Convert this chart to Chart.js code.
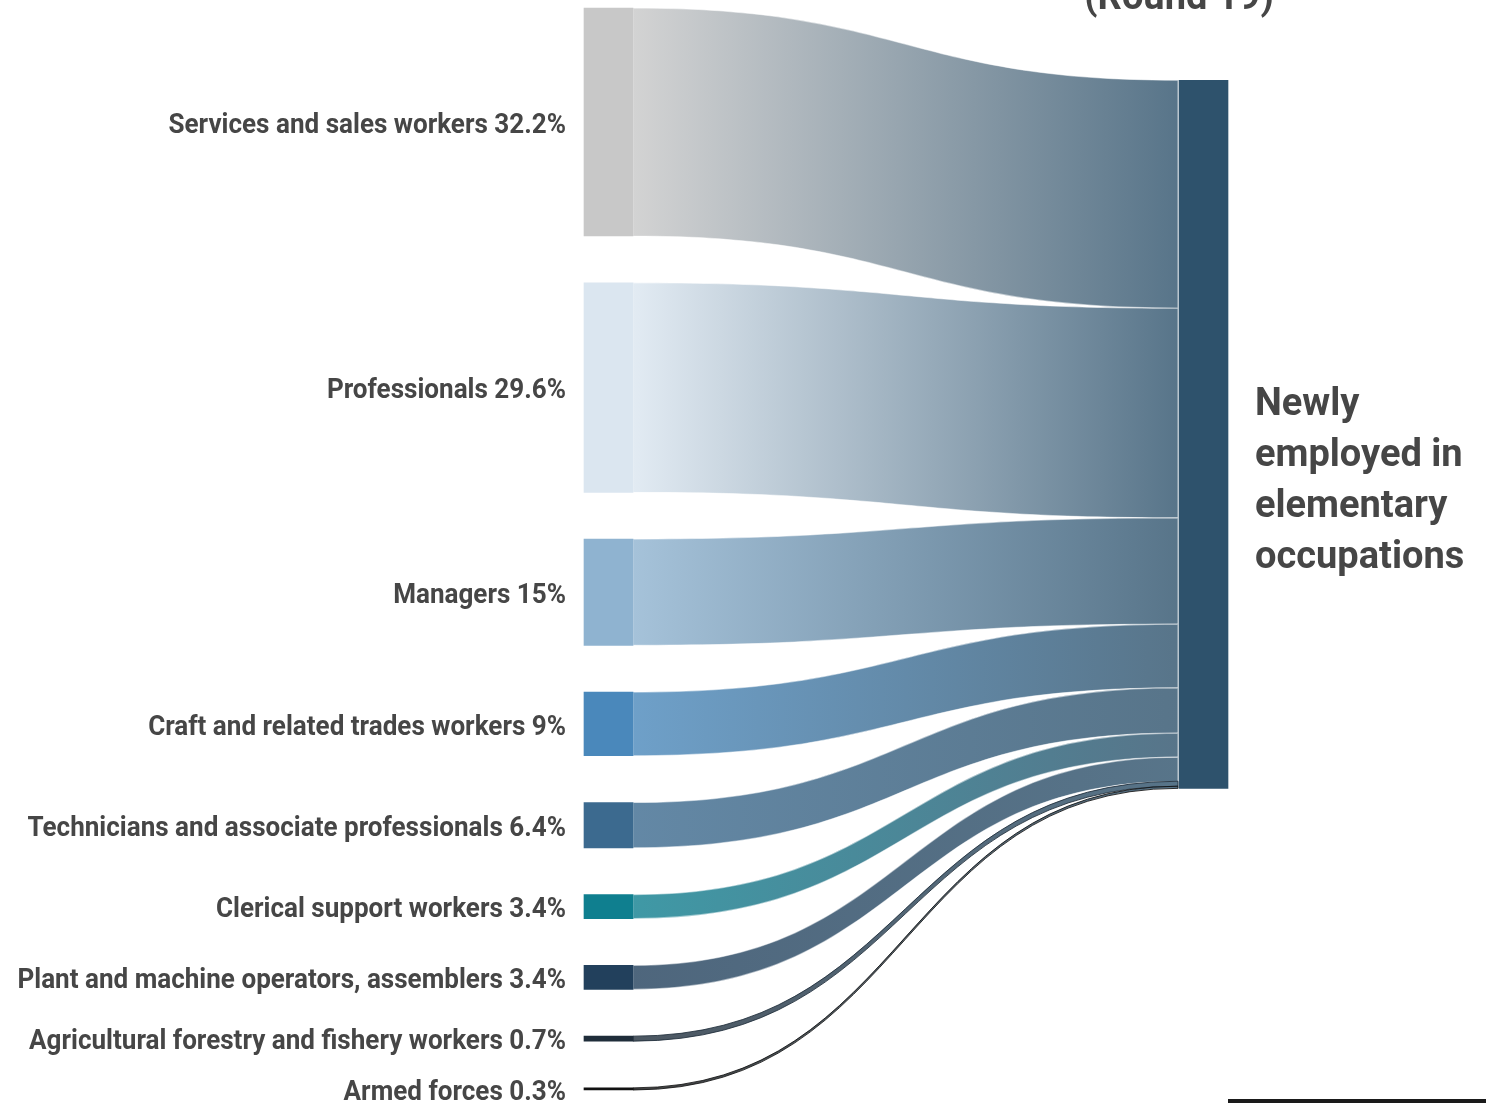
<!DOCTYPE html>
<html>
<head>
<meta charset="utf-8">
<title>Newly employed in elementary occupations</title>
<script src="https://cdn.jsdelivr.net/npm/chart.js@4.4.1/dist/chart.umd.min.js"></script>
<style>
  html, body { margin: 0; padding: 0; background: #fff; }
  #wrap { width: 1486px; height: 1103px; }
</style>
</head>
<body>
<div id="wrap"><canvas id="sankey" width="1486" height="1103"></canvas></div>
<script>
// where the newly employed in elementary occupations came from
const sources = [
  'Services and sales workers',
  'Professionals',
  'Managers',
  'Craft and related trades workers',
  'Technicians and associate professionals',
  'Clerical support workers',
  'Plant and machine operators, assemblers',
  'Agricultural forestry and fishery workers',
  'Armed forces'
];
const shares = [32.2, 29.6, 15, 9, 6.4, 3.4, 3.4, 0.7, 0.3];
const nodeColors = ['#c8c8c8', '#dbe6f0', '#8fb3d0', '#4a88bb', '#3c6a8f', '#0f7f8f', '#22405c', '#1f2d3a', '#111111'];
const targetLines = ['Newly', 'employed in', 'elementary', 'occupations'];
const targetColor = '#2e526c';
const roundLabel = '(Round 19)';

const GAP = 6.6;          // space between the left nodes, in share units
const TARGET_TOP = 10.2;  // offset of the right node from the top
const FLOW_ALPHA = 0.8;
const TEXT = '#464646';
const NARROW = 0.965;     // squeeze the labels a little, like a condensed face

// stack the left nodes from the top
const leftRanges = [];
let pos = 0;
shares.forEach((v, i) => {
  leftRanges.push([pos, pos + v]);
  pos += v + (i < shares.length - 1 ? GAP : 0);
});
const span = pos;
const total = shares.reduce((a, b) => a + b, 0);

// each flow lands on the right node in the same order
const rightRanges = [];
let acc = TARGET_TOP;
shares.forEach(v => { rightRanges.push([acc, acc + v]); acc += v; });

function rgba(hex, a) {
  const n = parseInt(hex.slice(1), 16);
  return `rgba(${n >> 16}, ${(n >> 8) & 255}, ${n & 255}, ${a})`;
}

function narrowText(ctx, text, x, y) {
  ctx.save();
  ctx.translate(x, y);
  ctx.scale(NARROW, 1);
  ctx.fillText(text, 0, 0);
  ctx.restore();
}

const datasets = sources.map((name, i) => ({
  label: name,
  data: [leftRanges[i], null],
  backgroundColor: nodeColors[i]
}));
datasets.push({
  label: targetLines.join(' '),
  data: [null, [TARGET_TOP, TARGET_TOP + total]],
  backgroundColor: targetColor
});

const flowPlugin = {
  id: 'flows',
  beforeDatasetsDraw(chart) {
    const { ctx } = chart;
    const y = chart.scales.y;
    const left = chart.getDatasetMeta(0).data[0];
    const right = chart.getDatasetMeta(sources.length).data[1];
    const x0 = left.x + left.width / 2;
    const x1 = right.x - right.width / 2 - 1;
    const xm = (x0 + x1) / 2;

    shares.forEach((v, i) => {
      const s0 = y.getPixelForValue(leftRanges[i][0]);
      const s1 = y.getPixelForValue(leftRanges[i][1]);
      const t0 = y.getPixelForValue(rightRanges[i][0]);
      const t1 = y.getPixelForValue(rightRanges[i][1]);
      const grad = ctx.createLinearGradient(x0, 0, x1, 0);
      grad.addColorStop(0, rgba(nodeColors[i], FLOW_ALPHA));
      grad.addColorStop(1, rgba(targetColor, FLOW_ALPHA));

      ctx.save();
      ctx.beginPath();
      ctx.moveTo(x0, s0);
      ctx.bezierCurveTo(xm, s0, xm, t0, x1, t0);
      ctx.lineTo(x1, t1);
      ctx.bezierCurveTo(xm, t1, xm, s1, x0, s1);
      ctx.closePath();
      ctx.fillStyle = grad;
      ctx.fill();
      if (v >= 1) {
        ctx.strokeStyle = 'rgba(255, 255, 255, 0.5)';
        ctx.lineWidth = 1.2;
        ctx.stroke();
      } else {
        // hairline flows still need to show up
        ctx.strokeStyle = rgba(nodeColors[i], 0.85);
        ctx.lineWidth = 1;
        ctx.stroke();
      }
      ctx.restore();
    });
  },
  afterDatasetsDraw(chart) {
    const { ctx } = chart;
    const y = chart.scales.y;
    ctx.save();
    ctx.fillStyle = TEXT;
    ctx.textBaseline = 'middle';

    // left labels
    ctx.font = '700 27px Roboto';
    ctx.textAlign = 'right';
    sources.forEach((name, i) => {
      const bar = chart.getDatasetMeta(i).data[0];
      const cy = y.getPixelForValue((leftRanges[i][0] + leftRanges[i][1]) / 2);
      narrowText(ctx, `${name} ${shares[i]}%`, bar.x - bar.width / 2 - 18, cy + 4);
    });

    // right node caption
    const right = chart.getDatasetMeta(sources.length).data[1];
    const rx = right.x + right.width / 2 + 27;
    const mid = y.getPixelForValue(TARGET_TOP + total / 2);
    ctx.font = '700 38px Roboto';
    ctx.textAlign = 'left';
    targetLines.forEach((line, k) => {
      ctx.fillText(line, rx, mid - 29 + k * 51);
    });

    // round label, mostly above the top edge
    ctx.textAlign = 'center';
    ctx.textBaseline = 'alphabetic';
    ctx.fillText(roundLabel, right.x - right.width / 2, 9);

    // rule at the bottom right
    ctx.fillStyle = '#1a1a1a';
    ctx.fillRect(right.x + right.width / 2, chart.height - 4, chart.width, 4);
    ctx.restore();
  }
};

new Chart(document.getElementById('sankey'), {
  type: 'bar',
  data: { labels: ['from', 'to'], datasets },
  options: {
    responsive: false,
    animation: false,
    devicePixelRatio: 1,
    layout: { padding: { left: 608.5, right: 282.5, top: 8, bottom: 13 } },
    datasets: {
      bar: {
        grouped: false,
        barThickness: 49,
        borderWidth: 0,
        borderSkipped: false,
        clip: false
      }
    },
    scales: {
      x: { type: 'category', offset: false, display: false },
      y: { min: 0, max: span, reverse: true, display: false }
    },
    plugins: {
      legend: { display: false },
      tooltip: { enabled: false }
    }
  },
  plugins: [flowPlugin]
});
</script>
</body>
</html>
